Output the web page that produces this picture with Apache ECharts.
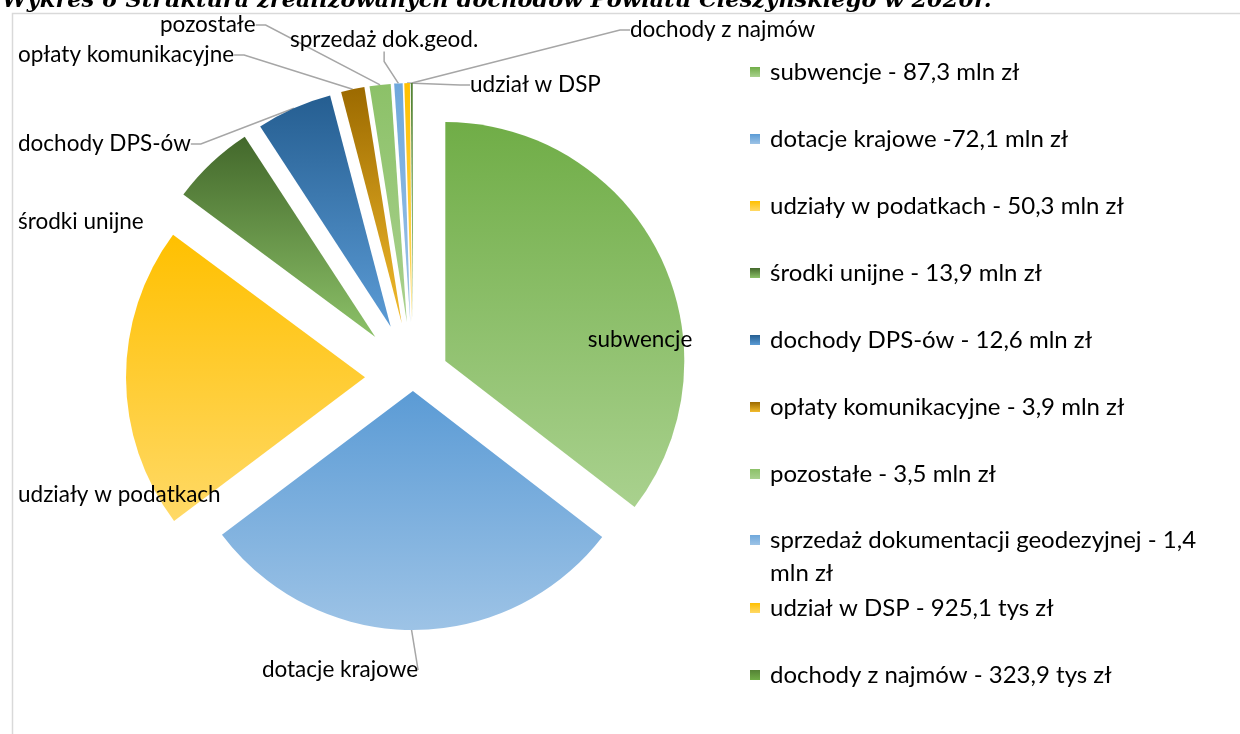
<!DOCTYPE html>
<html>
<head>
<meta charset="utf-8">
<script src="https://cdn.jsdelivr.net/npm/echarts@6/dist/echarts.min.js"></script>
<style>
html, body { margin: 0; padding: 0; background: #fff; }
#chart { width: 1240px; height: 734px; }
</style>
</head>
<body>
<div id="chart"></div>
<script>
// dane z wykresu (mln zł)
const nazwy = ['subwencje', 'dotacje krajowe', 'udziały w podatkach', 'środki unijne', 'dochody DPS-ów',
    'opłaty komunikacyjne', 'pozostałe', 'sprzedaż dok.geod.', 'udział w DSP', 'dochody z najmów'];
const legenda = ['subwencje - 87,3 mln zł', 'dotacje krajowe -72,1 mln zł', 'udziały w podatkach - 50,3 mln zł',
    'środki unijne - 13,9 mln zł', 'dochody DPS-ów - 12,6 mln zł', 'opłaty komunikacyjne - 3,9 mln zł',
    'pozostałe - 3,5 mln zł', 'sprzedaż dokumentacji geodezyjnej - 1,4 mln zł', 'udział w DSP - 925,1 tys zł',
    'dochody z najmów - 323,9 tys zł'];
const wartosci = [87.3, 72.1, 50.3, 13.9, 12.6, 3.9, 3.5, 1.4, 0.9251, 0.3239];

// wygląd
const kolory = [
    ['#70ad47', '#a9d18e'], ['#5b9bd5', '#9dc3e6'], ['#ffc000', '#ffd966'], ['#43682b', '#8cc168'],
    ['#255e91', '#5b9bd5'], ['#9c6a00', '#f2bb2c'], ['#8cc168', '#a9d18e'], ['#6fa8dc', '#9dc3e6'],
    ['#ffc000', '#ffd966'], ['#548235', '#70ad47']
];
const srodek = [413, 377];
const wysuniecie = [36, 14, 48, 55, 55, 55, 55, 55, 55, 55];   // odsunięcie kawałka od środka (px)
const etykiety = [   // miejsce podpisu: x, y, wyrównanie
    [640, 340, 'center'], [340, 670, 'center'], [18, 495, 'left'], [18, 222, 'left'], [18, 144, 'left'],
    [18, 55, 'left'], [160, 25, 'left'], [290, 40, 'left'], [470, 85, 'left'], [630, 30, 'left']
];
const zLinia = [false, true, false, false, true, true, true, true, true, true];

const grad = c => new echarts.graphic.LinearGradient(0, 0, 0, 1, [
    { offset: 0, color: c[0] }, { offset: 1, color: c[1] }
]);

const chart = echarts.init(document.getElementById('chart'));

// jedna seria na kawałek: ten sam zestaw wartości (kąty się zgadzają), widoczny tylko jeden kawałek,
// a środek serii przesunięty wzdłuż środkowego kąta kawałka
const suma = wartosci.reduce((a, b) => a + b, 0);
let narast = 0;
const series = wartosci.map((val, k) => {
    const kat = (narast + val / 2) / suma * 2 * Math.PI;
    narast += val;
    const off = wysuniecie[k];
    return {
        type: 'pie',
        center: [srodek[0] + off * Math.sin(kat), srodek[1] - off * Math.cos(kat)],
        radius: 239,
        startAngle: 90,
        avoidLabelOverlap: false,
        silent: true,
        animation: false,
        itemStyle: { borderWidth: 0 },
        label: { fontFamily: 'Lato', fontSize: 22.5, color: '#000' },
        labelLine: { lineStyle: { color: '#a6a6a6', width: 1.5 }, length: 10, length2: 10 },
        labelLayout: p => {
            if (p.dataIndex !== k) return {};
            const e = etykiety[k];
            return { x: e[0], y: e[1], align: e[2], verticalAlign: 'middle' };
        },
        data: wartosci.map((v, i) => i === k ? {
            value: v, name: legenda[i],
            itemStyle: { color: grad(kolory[i]) },
            label: { show: true, formatter: nazwy[i] },
            labelLine: { show: zLinia[i] }
        } : {
            value: v, name: '',
            itemStyle: { color: 'rgba(0,0,0,0)' },
            label: { show: false }, labelLine: { show: false }
        })
    };
});

const legendaStyl = {
    orient: 'vertical', left: 750, icon: 'rect', itemWidth: 10, itemHeight: 10,
    selectedMode: false, padding: 0, itemGap: 43,
    itemStyle: { borderWidth: 0 },
    textStyle: { fontFamily: 'Lato', fontSize: 24, color: '#000', lineHeight: 24, padding: [0, 0, 0, 5] }
};

chart.setOption({
    animation: false,
    title: {
        text: 'Wykres 6 Struktura zrealizowanych dochodów Powiatu Cieszyńskiego w 2020r.',
        left: -3, top: -15,
        textStyle: { fontFamily: 'DejaVu Serif', fontSize: 22.5, fontStyle: 'italic', fontWeight: 'bold', color: '#000' }
    },
    graphic: [{
        type: 'rect', left: 10, top: 11, silent: true, z: -1,
        shape: { width: 1240, height: 740 },
        style: { fill: 'none', stroke: '#d9d9d9', lineWidth: 1.5 }
    }],
    legend: [
        Object.assign({}, legendaStyl, { top: 60, data: legenda.slice(0, 7) }),
        // długi wpis łamie się na dwie linie; pusta linia na górze trzyma ikonę przy pierwszej linii tekstu
        Object.assign({}, legendaStyl, {
            top: 490.5, data: [legenda[7]],
            formatter: n => '\n' + n,
            textStyle: Object.assign({}, legendaStyl.textStyle, { lineHeight: 33, width: 460, overflow: 'break' })
        }),
        Object.assign({}, legendaStyl, { top: 596, data: legenda.slice(8) })
    ],
    series: series
});
</script>
</body>
</html>
